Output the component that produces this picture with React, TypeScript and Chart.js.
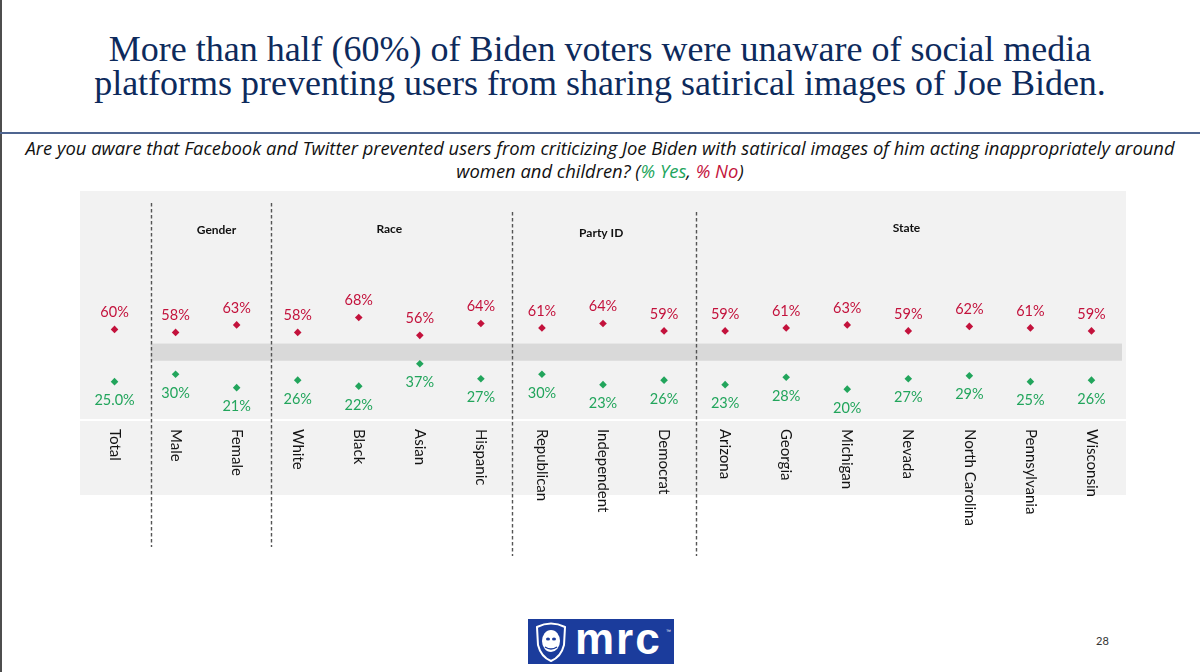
import React, { useEffect, useRef } from "react";
import { Chart, registerables } from "chart.js";

Chart.register(...registerables);

const categories = [
  "Total", "Male", "Female", "White", "Black", "Asian", "Hispanic",
  "Republican", "Independent", "Democrat", "Arizona", "Georgia", "Michigan",
  "Nevada", "North Carolina", "Pennsylvania", "Wisconsin",
];
const noValues = [60, 58, 63, 58, 68, 56, 64, 61, 64, 59, 59, 61, 63, 59, 62, 61, 59];
const yesValues = [25, 30, 21, 26, 22, 37, 27, 30, 23, 26, 23, 28, 20, 27, 29, 25, 26];
const noLabels = ["60%", "58%", "63%", "58%", "68%", "56%", "64%", "61%", "64%", "59%", "59%", "61%", "63%", "59%", "62%", "61%", "59%"];
const yesLabels = ["25.0%", "30%", "21%", "26%", "22%", "37%", "27%", "30%", "23%", "26%", "23%", "28%", "20%", "27%", "29%", "25%", "26%"];
const groupNames = ["Gender", "Race", "Party ID", "State"];

const RED = "#c3123c";
const GREEN = "#22a55c";
const NAVY = "#0d2a5c";

const GROUP_AT = [1.67, 4.5, 7.97, 12.97];
const GROUP_Y = [39, 38, 42, 37];
const DIVIDER_AT = [0.59, 2.57, 6.51, 9.52];
const DIVIDER_TOP = [12, 12, 21, 21];
const DIVIDER_BOTTOM = [356, 356, 365, 365];

const panelPlugin = {
  id: "panelPlugin",
  beforeDraw(chart: any) {
    const { ctx, chartArea, scales } = chart;
    const x = scales.x;
    const y = scales.y;
    ctx.save();
    ctx.fillStyle = "#f2f2f2";
    ctx.fillRect(0, 0, chart.width, chartArea.bottom + 76);
    const bandLeft = x.getPixelForValue(DIVIDER_AT[0]);
    const t = y.getPixelForValue(50.5);
    const b = y.getPixelForValue(39);
    ctx.fillStyle = "#d9d9d9";
    ctx.fillRect(bandLeft, t, chartArea.right - bandLeft, b - t);
    ctx.strokeStyle = "#ffffff";
    ctx.lineWidth = 2;
    ctx.beginPath();
    ctx.moveTo(0, chartArea.bottom + 1);
    ctx.lineTo(chart.width, chartArea.bottom + 1);
    ctx.stroke();
    ctx.strokeStyle = "#555555";
    ctx.lineWidth = 1.4;
    ctx.setLineDash([3.5, 2.5]);
    DIVIDER_AT.forEach((f, i) => {
      const px = Math.round(x.getPixelForValue(f)) + 0.5;
      ctx.beginPath();
      ctx.moveTo(px, DIVIDER_TOP[i]);
      ctx.lineTo(px, DIVIDER_BOTTOM[i]);
      ctx.stroke();
    });
    ctx.setLineDash([]);
    ctx.fillStyle = "#111111";
    ctx.font = "bold 12px Lato";
    ctx.textAlign = "center";
    ctx.textBaseline = "middle";
    groupNames.forEach((g, i) => {
      ctx.fillText(g, x.getPixelForValue(GROUP_AT[i]), GROUP_Y[i]);
    });
    ctx.restore();
  },
  afterDatasetsDraw(chart: any) {
    const { ctx, chartArea } = chart;
    ctx.save();
    ctx.font = "14.5px Lato";
    ctx.textAlign = "center";
    ctx.textBaseline = "middle";
    const noMeta = chart.getDatasetMeta(0);
    const yesMeta = chart.getDatasetMeta(1);
    noMeta.data.forEach((pt: any, i: number) => {
      ctx.fillStyle = RED;
      ctx.fillText(noLabels[i], pt.x, pt.y - 17);
    });
    yesMeta.data.forEach((pt: any, i: number) => {
      ctx.fillStyle = GREEN;
      ctx.fillText(yesLabels[i], pt.x, pt.y + 19);
    });
    ctx.fillStyle = "#141414";
    ctx.font = "15px Lato";
    ctx.textAlign = "left";
    ctx.textBaseline = "middle";
    categories.forEach((c, i) => {
      const px = chart.scales.x.getPixelForValue(i);
      ctx.save();
      ctx.translate(px, chartArea.bottom + 10);
      ctx.rotate(Math.PI / 2);
      ctx.fillText(c, 0, 0);
      ctx.restore();
    });
    ctx.restore();
  },
};

function DotChart() {
  const ref = useRef<HTMLCanvasElement | null>(null);
  useEffect(() => {
    if (!ref.current) return;
    const chart = new Chart(ref.current, {
      type: "line",
      data: {
        labels: categories,
        datasets: [
          {
            label: "% No",
            data: noValues,
            showLine: false,
            pointStyle: "rectRot",
            pointRadius: 3.8,
            pointBorderWidth: 0,
            backgroundColor: RED,
            borderColor: RED,
          },
          {
            label: "% Yes",
            data: yesValues,
            showLine: false,
            pointStyle: "rectRot",
            pointRadius: 3.8,
            pointBorderWidth: 0,
            backgroundColor: GREEN,
            borderColor: GREEN,
          },
        ],
      },
      options: {
        animation: false,
        responsive: false,
        maintainAspectRatio: false,
        layout: { padding: { left: 0, right: 0, top: 0, bottom: 142 } },
        scales: {
          x: { display: false, offset: true },
          y: { display: false, min: 0, max: 150 },
        },
        plugins: {
          legend: { display: false },
          tooltip: { enabled: false },
        },
      } as any,
      plugins: [panelPlugin],
    });
    return () => chart.destroy();
  }, []);
  return (
    <canvas
      ref={ref}
      width={1046}
      height={370}
      style={{ position: "absolute", left: 80, top: 191, width: 1046, height: 370 }}
    />
  );
}

function Logo() {
  return (
    <div
      style={{
        position: "absolute",
        left: 528,
        top: 619,
        width: 146,
        height: 45,
        background: "#1b3c9c",
        overflow: "hidden",
      }}
    >
      <svg width="40" height="45" style={{ position: "absolute", left: 3, top: 0 }}>
        <path
          d="M6 8 Q20 1 34 8 L33 26 Q30 38 20 42 Q10 38 7 26 Z"
          fill="none"
          stroke="#ffffff"
          strokeWidth="2"
        />
        <ellipse cx="20" cy="22" rx="9" ry="11" fill="#ffffff" />
        <ellipse cx="17" cy="20" rx="2" ry="1.5" fill="#1b3c9c" />
        <ellipse cx="23" cy="20" rx="2" ry="1.5" fill="#1b3c9c" />
        <path d="M14 28 Q20 32 26 28" stroke="#1b3c9c" strokeWidth="1.5" fill="none" />
      </svg>
      <div
        style={{
          position: "absolute",
          left: 47,
          top: -4,
          color: "#ffffff",
          font: "bold 44px 'Liberation Sans', Arial, sans-serif",
          letterSpacing: 2,
          lineHeight: "48px",
        }}
      >
        mrc
      </div>
      <div
        style={{
          position: "absolute",
          left: 138,
          top: 9,
          color: "#ffffff",
          font: "5px 'Liberation Sans', sans-serif",
        }}
      >
        ™
      </div>
    </div>
  );
}

export default function App() {
  return (
    <div
      style={{
        position: "fixed",
        left: 0,
        top: 0,
        width: 1200,
        height: 672,
        background: "#ffffff",
        overflow: "hidden",
      }}
    >
      <div style={{ position: "absolute", left: 0, top: 0, width: 2, height: 672, background: "#4d4d4d" }} />
      <div
        style={{
          position: "absolute",
          left: 0,
          top: 32,
          width: 1200,
          textAlign: "center",
          color: NAVY,
          font: "36px 'Liberation Serif', 'Times New Roman', serif",
          lineHeight: "34px",
        }}
      >
        More than half (60%) of Biden voters were unaware of social media
        <br />
        platforms preventing users from sharing satirical images of Joe Biden.
      </div>
      <div style={{ position: "absolute", left: 0, top: 132, width: 1200, height: 2, background: "#4f6590" }} />
      <div
        style={{
          position: "absolute",
          left: 0,
          top: 137,
          width: 1200,
          textAlign: "center",
          color: "#111111",
          font: "italic 18.4px 'Open Sans', sans-serif",
          lineHeight: "22.6px",
          whiteSpace: "nowrap",
        }}
      >
        Are you aware that Facebook and Twitter prevented users from criticizing Joe Biden with satirical images of him acting inappropriately around
        <br />
        women and children? (<span style={{ color: GREEN }}>% Yes</span>, <span style={{ color: RED }}>% No</span>)
      </div>
      <DotChart />
      <Logo />
      <div
        style={{
          position: "absolute",
          left: 1096,
          top: 634,
          color: "#333333",
          font: "11px Lato, sans-serif",
        }}
      >
        28
      </div>
    </div>
  );
}
